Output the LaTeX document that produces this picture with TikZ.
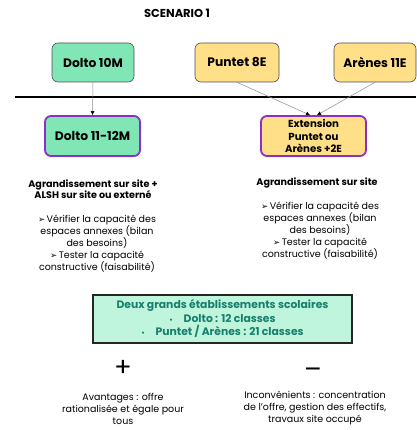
\documentclass[tikz,border=0pt]{standalone}
\usepackage{fontspec}
\setmainfont{Poppins}
\newfontfamily\symfont{DejaVu Sans}
\usetikzlibrary{arrows.meta,calc}
\definecolor{boxgreen}{HTML}{80E6B5}
\definecolor{boxyellow}{HTML}{FFDF88}
\definecolor{boxpurple}{HTML}{8A2FC8}
\definecolor{mint}{HTML}{BFF5DC}
\definecolor{tealtext}{HTML}{17806D}
\newcommand{\arr}{{\symfont\fontsize{8.5}{8.5}\selectfont ➢}\,}
\newcommand{\blt}{{\fontsize{7}{7}\selectfont •}\quad}
\tikzset{
  topbox/.style={draw=black!70, line width=0.6pt, rounded corners=6pt, minimum height=39pt, inner sep=0pt, align=center, font=\fontsize{12.3}{14}\selectfont\bfseries},
  midbox/.style={draw=boxpurple, line width=1.8pt, rounded corners=6pt, minimum height=40pt, inner sep=0pt, align=center},
  conn/.style={draw=black!45, line width=0.5pt, -{Latex[color=black,length=4pt,width=4pt]}},
  body/.style={align=center, inner sep=0pt, font=\fontsize{9.5}{12}\selectfont},
  head/.style={align=center, inner sep=0pt, font=\fontsize{9.6}{11.5}\selectfont\bfseries},
}
\begin{document}
\begin{tikzpicture}[x=1pt,y=-1pt]
\useasboundingbox (0,0) rectangle (416,430);
\node[font=\fontsize{11.5}{13}\selectfont\bfseries] (title) at (177,13) {SCENARIO 1};
\node[topbox, fill=boxgreen, minimum width=82pt] (d10) at (93,62.5) {Dolto 10M};
\node[topbox, fill=boxyellow, minimum width=84pt] (p8) at (237,62.5) {Puntet 8E};
\node[topbox, fill=boxyellow, minimum width=82pt] (a11) at (375,62.5) {Arènes 11E};
\coordinate (lineL) at (15,97);
\coordinate (lineR) at (416,97);
\draw[line width=1.8pt] (lineL) -- (lineR);
\node[midbox, fill=boxgreen, minimum width=95pt, font=\fontsize{12.3}{14}\selectfont\bfseries] (d12) at (92.5,136) {Dolto 11-12M};
\node[midbox, fill=boxyellow, minimum width=105pt, font=\fontsize{10.2}{12.5}\selectfont\bfseries] (ext) at (313.5,136) {Extension\\Puntet ou\\Arènes +2E};
\draw[conn] (d10.south) -- (d12.north);
\draw[conn] (p8.south) -- ($(ext.north)+(-3.5,0)$);
\draw[conn] (a11.south) -- ($(ext.north)+(3.5,0)$);
\node[head] (hl) at (93,189) {Agrandissement sur site +\\ALSH sur site ou externé};
\node[body] (bl) at (97,243.5) {\arr Vérifier la capacité des\\espaces annexes (bilan\\des besoins)\\\arr Tester la capacité\\constructive (faisabilité)};
\node[head] (hr) at (317,183) {Agrandissement sur site};
\node[body] (br) at (320,230.5) {\arr Vérifier la capacité des\\espaces annexes (bilan\\des besoins)\\\arr Tester la capacité\\constructive (faisabilité)};
\node[draw=black!85, line width=1.5pt, fill=mint, minimum width=259pt, minimum height=48pt, inner sep=0pt, align=center, text=tealtext, font=\fontsize{10.8}{13.5}\selectfont\bfseries] (sum) at (222.5,319) {Deux grands établissements scolaires\\\blt Dolto : 12 classes\\\blt Puntet / Arènes : 21 classes};
\node[font=\fontsize{26}{26}\selectfont] (plus) at (123,368) {+};
\node[font=\fontsize{26}{26}\selectfont] (minus) at (313,373) {–};
\node[body] (adv) at (123,408.5) {Avantages : offre\\rationalisée et égale pour\\tous};
\node[body] (inc) at (315,408.5) {Inconvénients : concentration\\de l'offre, gestion des effectifs,\\travaux site occupé};
\end{tikzpicture}
\end{document}
